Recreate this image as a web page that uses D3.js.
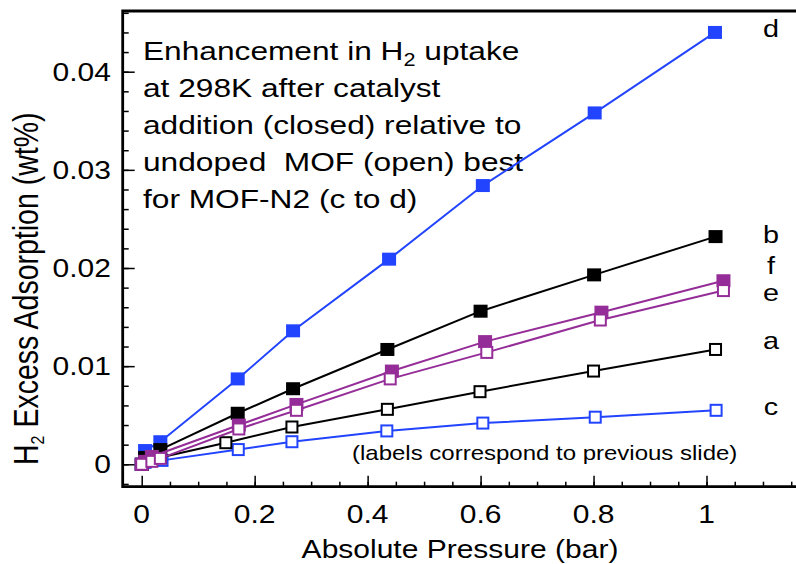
<!DOCTYPE html>
<html><head><meta charset="utf-8">
<script src="https://cdn.jsdelivr.net/npm/d3@7"></script>
<style>body{margin:0;background:#fff}svg{display:block}text{font-family:"Liberation Sans",Arial,Helvetica,sans-serif;fill:#000;white-space:pre}</style>
</head><body><svg id="c" width="796" height="564"></svg>
<script>
// ---- data ----
const seriesNames = ["c","a","d","b","f","e"];
const seriesFilled = {c:false,a:false,d:true,b:true,f:true,e:false};
const seriesColor = {c:"#2244ff",a:"#000000",d:"#2244ff",b:"#000000",f:"#952d98",e:"#952d98"};
const dX = [0, 0.006, 0.033, 0.170, 0.268, 0.438, 0.604, 0.802, 1.015];
const dY = [0, 0.0014, 0.0023, 0.0087, 0.0136, 0.0209, 0.0284, 0.0358, 0.0440];
const bX = [0, 0.006, 0.033, 0.170, 0.268, 0.435, 0.600, 0.801, 1.016];
const bY = [0, 0.0007, 0.0015, 0.0052, 0.0077, 0.0117, 0.0156, 0.0193, 0.0232];
const fX = [0, 0.006, 0.018, 0.172, 0.274, 0.443, 0.608, 0.814, 1.030];
const fY = [0, 0.0003, 0.0008, 0.0040, 0.0061, 0.0095, 0.0125, 0.0155, 0.0187];
const eX = [0, 0.018, 0.033, 0.172, 0.274, 0.440, 0.611, 0.812, 1.030];
const eY = [0, 0.0003, 0.0006, 0.0036, 0.0055, 0.0087, 0.0114, 0.0147, 0.0177];
const aX = [0, 0.006, 0.033, 0.149, 0.266, 0.435, 0.599, 0.800, 1.016];
const aY = [0, 0.0003, 0.0007, 0.0022, 0.0038, 0.0056, 0.0074, 0.0095, 0.0117];
const cX = [0, 0.006, 0.036, 0.171, 0.266, 0.434, 0.604, 0.803, 1.017];
const cY = [0, 0.0002, 0.0004, 0.0015, 0.0023, 0.0034, 0.0042, 0.0048, 0.0055];
const seriesX = {d:dX,b:bX,f:fX,e:eX,a:aX,c:cX};
const seriesY = {d:dY,b:bY,f:fY,e:eY,a:aY,c:cY};
const xTicks = [0,0.2,0.4,0.6,0.8,1];
const xTickLabels = ["0","0.2","0.4","0.6","0.8","1"];
const yTicks = [0,0.01,0.02,0.03,0.04];
const yTickLabels = ["0","0.01","0.02","0.03","0.04"];
const endLabels = [["d",0.0445],["b",0.0235],["f",0.0203],["e",0.0176],["a",0.0127],["c",0.0059]];
const noteLines = ["Enhancement in H|2| uptake","at 298K after catalyst","addition (closed) relative to","undoped  MOF (open) best","for MOF-N2 (c to d)"];
const xTitle = "Absolute Pressure (bar)";
const footNote = "(labels correspond to previous slide)";

// ---- layout ----
const SX = 1.2;
const svg = d3.select("#c");
const x = d3.scaleLinear().domain([0,1]).range([141.7,706.5]);
const y = d3.scaleLinear().domain([0,0.04]).range([464.3,71.7]);
const L = 122.7, T = 11, B = 486.7, R = 800;

function stext(px,py,str,size,anchor){
  return svg.append("text").attr("transform",`translate(${px},${py}) scale(${SX},1)`)
    .attr("font-size",size).attr("text-anchor",anchor||"start").text(str);
}

// axes (inward ticks)
const gx = svg.append("g").attr("transform",`translate(0,${B})`);
gx.call(d3.axisBottom(x).tickValues(d3.range(0.05,1.16,0.05)).tickSize(-5).tickFormat(""));
gx.call(g=>g.selectAll(".domain").remove());
const gx2 = svg.append("g").attr("transform",`translate(0,${B})`);
gx2.call(d3.axisBottom(x).tickValues(xTicks).tickSize(-11).tickFormat(""));
gx2.call(g=>g.selectAll(".domain").remove());

const gy = svg.append("g").attr("transform",`translate(${L},0)`);
gy.call(d3.axisLeft(y).tickValues(d3.range(-0.002,0.0461,0.002)).tickSize(-6).tickFormat(""));
gy.call(g=>g.selectAll(".domain").remove());
const gy2 = svg.append("g").attr("transform",`translate(${L},0)`);
gy2.call(d3.axisLeft(y).tickValues(yTicks).tickSize(-12).tickFormat(""));
gy2.call(g=>g.selectAll(".domain").remove());
svg.selectAll(".tick line").attr("stroke","#000").attr("stroke-width",1.5);

// frame
svg.append("path").attr("d",`M${R},${T}H${L}V${B}H${R}`).attr("fill","none").attr("stroke","#000").attr("stroke-width",2.8);

// tick labels
xTicks.forEach((v,i)=>stext(x(v),523,xTickLabels[i],25,"middle"));
yTicks.forEach((v,i)=>stext(111,y(v)+9,yTickLabels[i],25,"end"));

// titles
stext(460,558,xTitle,25,"middle");
const yl = svg.append("text").attr("transform",`translate(38,465) scale(${SX},1) rotate(-90)`).attr("font-size",28.5);
yl.append("tspan").text("H");
yl.append("tspan").attr("font-size",16).attr("dy",5).text("2");
yl.append("tspan").attr("dy",-5).text(" Excess Adsorption (wt%)");

// annotation
noteLines.forEach((ln,i)=>{
  const t = svg.append("text").attr("transform",`translate(143,${60+i*37}) scale(${SX},1)`).attr("font-size",26.4);
  const parts = ln.split("|");
  t.append("tspan").text(parts[0]);
  if(parts.length>1){
    t.append("tspan").attr("font-size",18).attr("dy",6).text(parts[1]);
    t.append("tspan").attr("dy",-6).text(parts[2]);
  }
});
stext(352,460,footNote,20,"start");

// series
const line = d3.line().x(d=>x(d[0])).y(d=>y(d[1]));
seriesNames.forEach(s=>{
  const pts = seriesX[s].map((v,i)=>[v,seriesY[s][i]]);
  const col = seriesColor[s];
  svg.append("path").datum(pts).attr("d",line).attr("fill","none").attr("stroke",col).attr("stroke-width",2);
  svg.selectAll(null).data(pts).enter().append("rect")
    .attr("x",d=>x(d[0])-(seriesFilled[s]?7:5.5))
    .attr("y",d=>y(d[1])-(seriesFilled[s]?6.5:5.5))
    .attr("width",seriesFilled[s]?14:11).attr("height",seriesFilled[s]?13:11)
    .attr("fill",seriesFilled[s]?col:"#fff").attr("stroke",seriesFilled[s]?"none":col).attr("stroke-width",2);
});

// end labels
endLabels.forEach(([lab,v])=>stext(771,y(v)+9,lab,24,"middle"));
</script></body></html>
